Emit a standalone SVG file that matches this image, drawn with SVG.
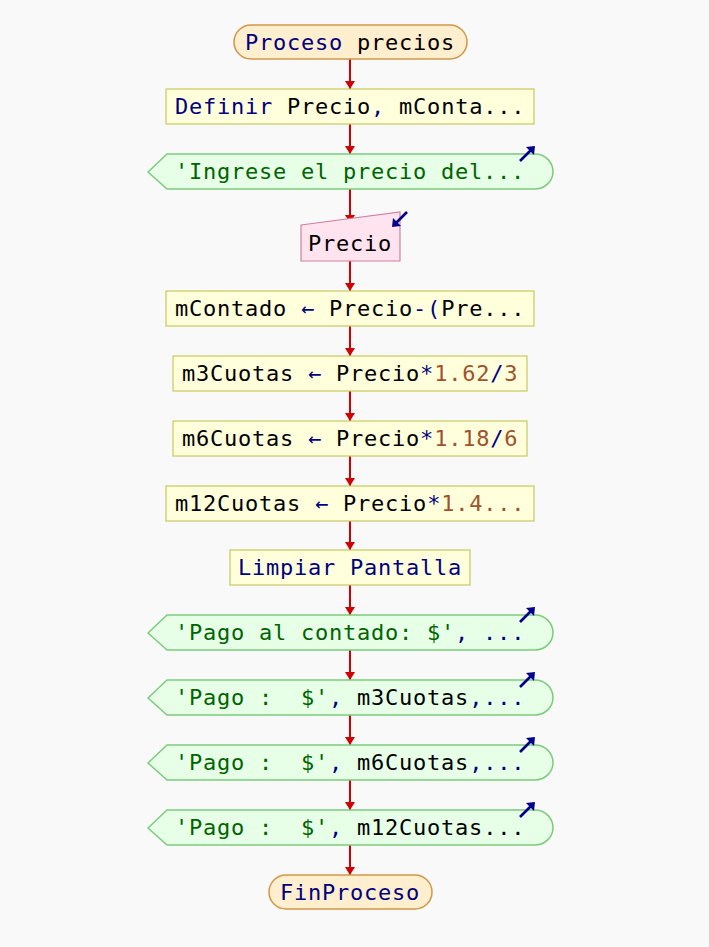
<svg xmlns="http://www.w3.org/2000/svg" width="709" height="947" viewBox="0 0 709 947">
<style>
text{font-family:"DejaVu Sans Mono","Liberation Mono",monospace;font-size:22px;letter-spacing:0.76px;fill:#000;white-space:pre}
.kw{fill:#00007f}.str{fill:#006400}.num{fill:#a0522d}.op{fill:#00007f}
.term{fill:#ffefcf;stroke:#d09848;stroke-width:1.5}
.proc{fill:#ffffdc;stroke:#c8c860;stroke-width:1.2}
.out{fill:#e6ffe6;stroke:#7ccc7c;stroke-width:1.5}
.inp{fill:#ffe4f0;stroke:#d080a0;stroke-width:1.2}
.conn line{stroke:#d00000;stroke-width:2}
.ico{stroke:#00008b;stroke-width:2.6;fill:none}
.icoh{fill:#00008b}
</style>
<defs>
<marker id="ah" markerWidth="10" markerHeight="8" refX="5" refY="8" orient="0" markerUnits="userSpaceOnUse" viewBox="0 0 10 8">
<path d="M0,0 L10,0 L5,8 Z" fill="#d00000"/>
</marker>
<g id="outIcon">
<line x1="-15" y1="15" x2="-3" y2="3" class="ico"/>
<path d="M0,0 L-9,1 L-1,9 Z" class="icoh"/>
</g>
<g id="inIcon">
<line x1="0" y1="0" x2="-12" y2="12" class="ico"/>
<path d="M-15,15 L-6,14 L-14,6 Z" class="icoh"/>
</g>
</defs>
<rect width="709" height="947" fill="#f9f9f9"/>
<g class="conn">
<line x1="350" y1="59" x2="350" y2="89" marker-end="url(#ah)"/>
<line x1="350" y1="124" x2="350" y2="154" marker-end="url(#ah)"/>
<line x1="350" y1="189" x2="350" y2="223" marker-end="url(#ah)"/>
<line x1="350" y1="261" x2="350" y2="291" marker-end="url(#ah)"/>
<line x1="350" y1="326" x2="350" y2="356" marker-end="url(#ah)"/>
<line x1="350" y1="391" x2="350" y2="421" marker-end="url(#ah)"/>
<line x1="350" y1="456" x2="350" y2="486" marker-end="url(#ah)"/>
<line x1="350" y1="521" x2="350" y2="550" marker-end="url(#ah)"/>
<line x1="350" y1="585" x2="350" y2="615" marker-end="url(#ah)"/>
<line x1="350" y1="650" x2="350" y2="680" marker-end="url(#ah)"/>
<line x1="350" y1="715" x2="350" y2="745" marker-end="url(#ah)"/>
<line x1="350" y1="780" x2="350" y2="810" marker-end="url(#ah)"/>
<line x1="350" y1="845" x2="350" y2="875" marker-end="url(#ah)"/>
</g>
<g id="n1">
<rect class="term" x="234" y="25" width="233" height="34" rx="17"/>
<text x="245" y="50"><tspan class="kw">Proceso</tspan> precios</text>
</g>
<g id="n2">
<rect class="proc" x="166" y="89" width="368" height="35"/>
<text x="175" y="114"><tspan class="kw">Definir</tspan> Precio<tspan class="op">,</tspan> mConta...</text>
</g>
<g id="n3">
<path class="out" d="M148,172 L167,154 L535,154 A18,17.5 0 0 1 535,189 L167,189 Z"/>
<text x="175" y="179" class="str">'Ingrese el precio del...</text>
<use href="#outIcon" x="535" y="146"/>
</g>
<g id="n4">
<path class="inp" d="M301,225 L400,212 L400,261 L301,261 Z"/>
<text x="308" y="251">Precio</text>
<use href="#inIcon" x="407" y="212"/>
</g>
<g id="n5">
<rect class="proc" x="166" y="291" width="368" height="35"/>
<text x="175" y="316">mContado <tspan class="op">←</tspan> Precio<tspan class="op">-(</tspan>Pre...</text>
</g>
<g id="n6">
<rect class="proc" x="173" y="356" width="354" height="35"/>
<text x="182" y="381">m3Cuotas <tspan class="op">←</tspan> Precio<tspan class="op">*</tspan><tspan class="num">1.62</tspan><tspan class="op">/</tspan><tspan class="num">3</tspan></text>
</g>
<g id="n7">
<rect class="proc" x="173" y="421" width="354" height="35"/>
<text x="182" y="446">m6Cuotas <tspan class="op">←</tspan> Precio<tspan class="op">*</tspan><tspan class="num">1.18</tspan><tspan class="op">/</tspan><tspan class="num">6</tspan></text>
</g>
<g id="n8">
<rect class="proc" x="166" y="486" width="368" height="35"/>
<text x="175" y="511">m12Cuotas <tspan class="op">←</tspan> Precio<tspan class="op">*</tspan><tspan class="num">1.4...</tspan></text>
</g>
<g id="n9">
<rect class="proc" x="230" y="550" width="240" height="35"/>
<text x="238" y="575" class="kw">Limpiar Pantalla</text>
</g>
<g id="n10">
<path class="out" d="M148,633 L167,615 L535,615 A18,17.5 0 0 1 535,650 L167,650 Z"/>
<text x="175" y="640"><tspan class="str">'Pago al contado: $'</tspan><tspan class="op">, ...</tspan></text>
<use href="#outIcon" x="535" y="607"/>
</g>
<g id="n11">
<path class="out" d="M148,698 L167,680 L535,680 A18,17.5 0 0 1 535,715 L167,715 Z"/>
<text x="175" y="705"><tspan class="str">'Pago :  $'</tspan><tspan class="op">,</tspan> m3Cuotas<tspan class="op">,...</tspan></text>
<use href="#outIcon" x="535" y="672"/>
</g>
<g id="n12">
<path class="out" d="M148,763 L167,745 L535,745 A18,17.5 0 0 1 535,780 L167,780 Z"/>
<text x="175" y="770"><tspan class="str">'Pago :  $'</tspan><tspan class="op">,</tspan> m6Cuotas<tspan class="op">,...</tspan></text>
<use href="#outIcon" x="535" y="737"/>
</g>
<g id="n13">
<path class="out" d="M148,828 L167,810 L535,810 A18,17.5 0 0 1 535,845 L167,845 Z"/>
<text x="175" y="835"><tspan class="str">'Pago :  $'</tspan><tspan class="op">,</tspan> m12Cuotas...</text>
<use href="#outIcon" x="535" y="802"/>
</g>
<g id="n14">
<rect class="term" x="269" y="875" width="163" height="34" rx="17"/>
<text x="280" y="900" class="kw">FinProceso</text>
</g>
</svg>
